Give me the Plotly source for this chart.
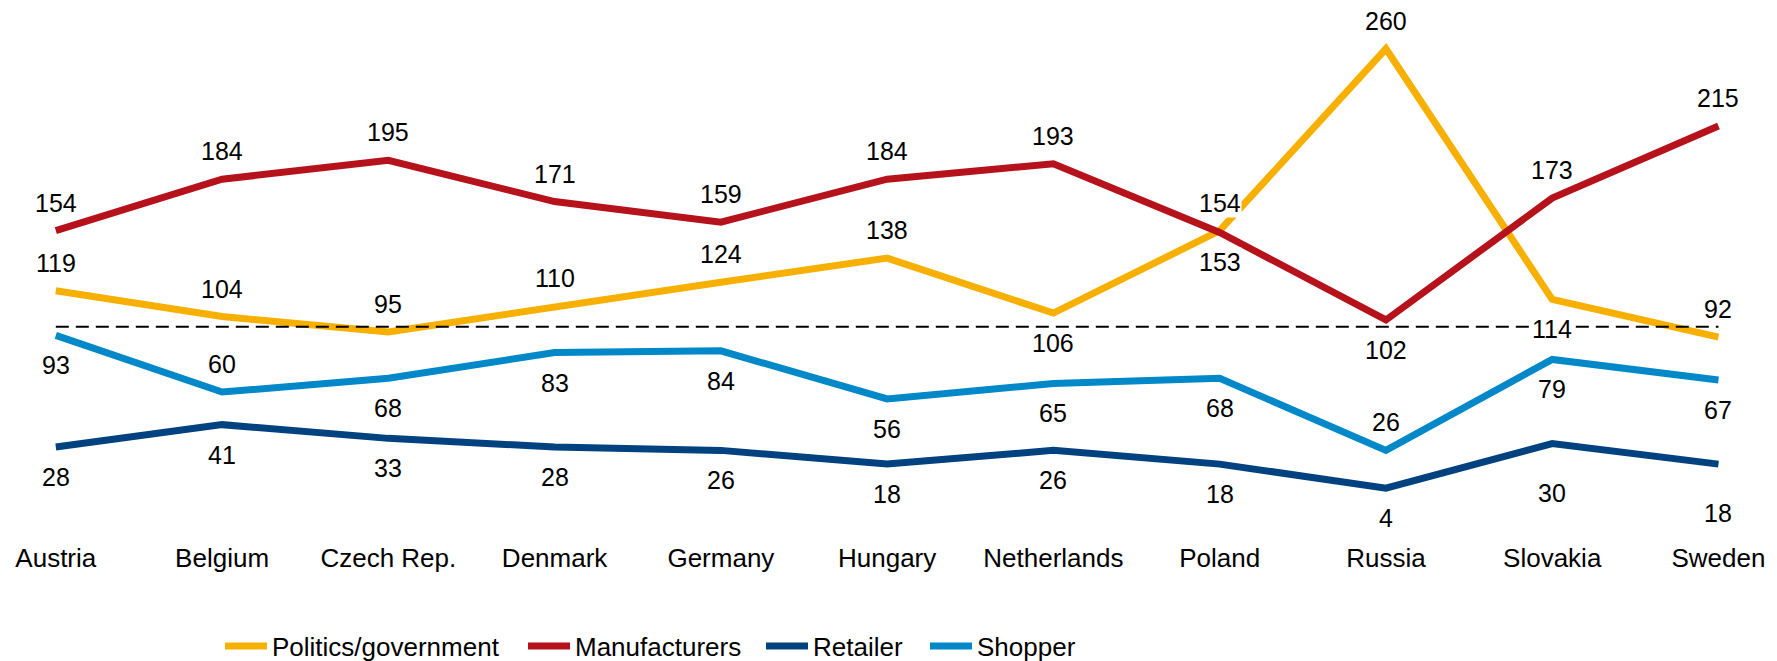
import plotly.graph_objects as go

categories = ["Austria", "Belgium", "Czech Rep.", "Denmark", "Germany", "Hungary",
              "Netherlands", "Poland", "Russia", "Slovakia", "Sweden"]
politics = [119, 104, 95, 110, 124, 138, 106, 154, 260, 114, 92]
manufacturers = [154, 184, 195, 171, 159, 184, 193, 153, 102, 173, 215]
retailer = [28, 41, 33, 28, 26, 18, 26, 18, 4, 30, 18]
shopper = [93, 60, 68, 83, 84, 56, 65, 68, 26, 79, 67]
reference_level = 98

# label placement (a = above, b = below, f = further below)
politics_pos = ["a", "a", "a", "a", "a", "a", "b", "a", "a", "b", "a"]
manufacturers_pos = ["a", "a", "a", "a", "a", "a", "a", "b", "b", "a", "a"]
retailer_pos = ["b", "b", "b", "b", "b", "b", "b", "b", "b", "f", "f"]
shopper_pos = ["b", "a", "b", "b", "b", "b", "b", "b", "a", "b", "b"]

FONT = "Liberation Sans, Arial, sans-serif"
shift = {"a": 28, "b": -30, "f": -49}
W, H = 1777, 661

series = [
    ("Politics/government", politics, politics_pos, "#F8B000", "legend", 220),
    ("Manufacturers", manufacturers, manufacturers_pos, "#B5121B", "legend2", 523),
    ("Retailer", retailer, retailer_pos, "#00417F", "legend3", 761),
    ("Shopper", shopper, shopper_pos, "#0088C9", "legend4", 925),
]

fig = go.Figure()
annotations = []
legends = {}
for name, vals, pos, color, leg, lx in series:
    fig.add_trace(go.Scatter(
        x=categories, y=vals, mode="lines", name=name,
        line=dict(color=color, width=7),
        hoverinfo="skip", legend=leg,
    ))
    legends[leg] = dict(
        orientation="h", x=lx / W, xanchor="left", xref="paper",
        y=(H - 646) / H, yanchor="middle", yref="container",
        font=dict(family=FONT, size=26, color="#000000"),
        itemwidth=42, bgcolor="rgba(0,0,0,0)",
    )
    for c, v, p in zip(categories, vals, pos):
        annotations.append(dict(
            x=c, y=v, xref="x", yref="y", text=str(v), showarrow=False,
            yshift=shift[p], font=dict(family=FONT, size=25, color="#000000"),
            bgcolor="white", borderpad=0,
        ))

fig.add_trace(go.Scatter(
    x=[categories[0], categories[-1]], y=[reference_level, reference_level],
    mode="lines", line=dict(color="#000000", width=2, dash="13px,7px"),
    showlegend=False, hoverinfo="skip",
))

fig.update_layout(
    width=W, height=H,
    margin=dict(l=0, r=0, t=10, b=166),
    paper_bgcolor="white", plot_bgcolor="white",
    font=dict(family=FONT, size=26, color="#000000"),
    annotations=annotations,
    showlegend=True,
    xaxis=dict(
        type="category", range=[-0.3356, 10.352], showgrid=False, zeroline=False,
        showline=False, ticks="", tickfont=dict(family=FONT, size=26),
        ticklabelstandoff=45,
    ),
    yaxis=dict(
        range=[0, 282.6], showgrid=False, zeroline=False, showline=False,
        showticklabels=False, ticks="",
    ),
    **legends,
)

fig.write_html("out.html")
